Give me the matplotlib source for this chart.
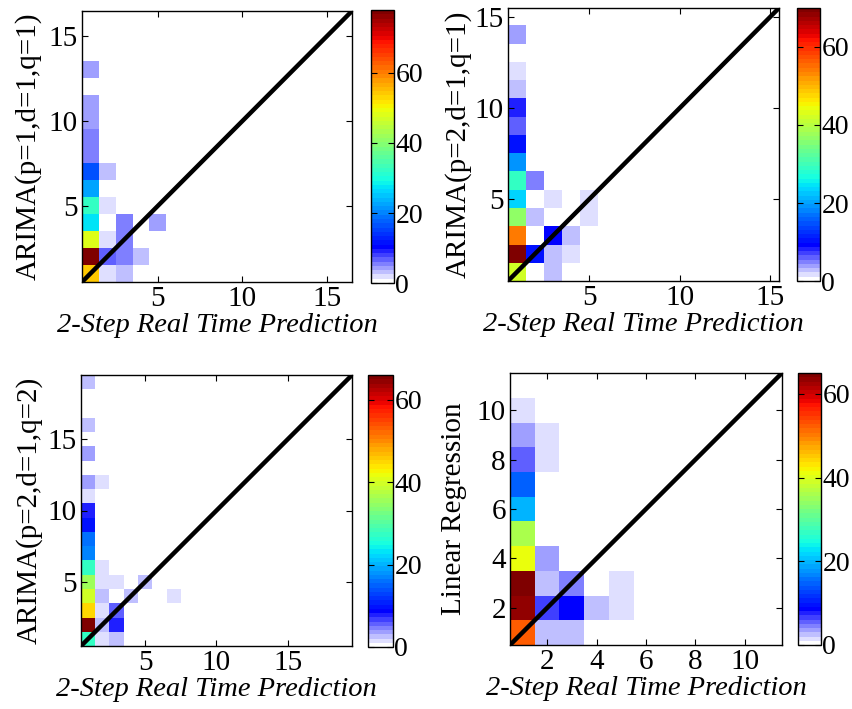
import matplotlib
matplotlib.use("Agg")
import matplotlib.pyplot as plt
import numpy as np
from matplotlib.colors import ListedColormap

plt.rcParams['font.family'] = ['Liberation Serif', 'DejaVu Serif']

# (real-time prediction bin, model prediction bin, count)
p1_cells = [(1, 1, 54), (1, 2, 78), (1, 3, 48), (1, 4, 28), (1, 5, 32), (1, 6, 23),
            (1, 7, 17), (1, 8, 6), (1, 9, 6), (1, 10, 4), (1, 11, 4), (1, 13, 4),
            (2, 1, 2), (2, 2, 7), (2, 3, 2), (2, 5, 2), (2, 7, 3),
            (3, 1, 3), (3, 2, 6), (3, 3, 6), (3, 4, 5), (4, 2, 3), (5, 4, 4)]
p2_cells = [(1, 1, 42), (1, 2, 70), (1, 3, 54), (1, 4, 37), (1, 5, 24), (1, 6, 29),
            (1, 7, 19), (1, 8, 10), (1, 9, 6), (1, 10, 8), (1, 11, 3), (1, 12, 2), (1, 14, 4),
            (2, 2, 10), (2, 4, 3), (2, 6, 5),
            (3, 1, 3), (3, 2, 3), (3, 3, 9), (3, 5, 2),
            (4, 2, 2), (4, 3, 3), (5, 4, 2), (5, 5, 2)]
p3_cells = [(1, 1, 27), (1, 2, 66), (1, 3, 45), (1, 4, 40), (1, 5, 36), (1, 6, 27),
            (1, 7, 17), (1, 8, 16), (1, 9, 10), (1, 10, 8), (1, 11, 2), (1, 12, 4),
            (1, 14, 4), (1, 16, 3), (1, 19, 3),
            (2, 1, 2), (2, 2, 3), (2, 3, 2), (2, 4, 3), (2, 5, 2), (2, 6, 2), (2, 12, 2),
            (3, 1, 3), (3, 2, 8), (3, 3, 6), (3, 5, 2),
            (4, 4, 3), (5, 5, 3), (7, 4, 2)]
p4_cells = [(1, 1, 52), (1, 2, 63), (1, 3, 65), (1, 4, 41), (1, 5, 36), (1, 6, 20),
            (1, 7, 15), (1, 8, 6), (1, 9, 4), (1, 10, 2),
            (2, 1, 3), (2, 2, 7), (2, 3, 3), (2, 4, 4), (2, 8, 2), (2, 9, 2),
            (3, 1, 3), (3, 2, 9), (3, 3, 5), (4, 2, 3), (5, 2, 2), (5, 3, 2)]

nbins = [16, 15, 19, 11]
ticks = [[5, 10, 15], [5, 10, 15], [5, 10, 15], [2, 4, 6, 8, 10]]
ylabels = ["ARIMA(p=1,d=1,q=1)", "ARIMA(p=2,d=1,q=1)", "ARIMA(p=2,d=1,q=2)", "Linear Regression"]
xlabel = "2-Step Real Time Prediction"

# jet with the lowest eighth faded from white to blue
cols = plt.cm.jet(np.linspace(0, 1, 64))
for i in range(8):
    cols[i] = (1 - i / 8, 1 - i / 8, 1, 1)
cmap = ListedColormap(cols)

W, H = 853, 709
fig = plt.figure(figsize=(W / 100, H / 100), dpi=100)

def box(l, r, t, b):
    return [l / W, 1 - b / H, (r - l) / W, (b - t) / H]

ax_boxes = [box(82, 352, 11, 282), box(508, 779, 8, 281),
            box(81, 352, 375, 646), box(510, 782, 373, 645)]
cb_boxes = [box(371, 394, 10, 283), box(797, 820, 8, 281),
            box(368, 393, 375, 647), box(798, 821, 373, 645)]
ylab_x = [-0.148, -0.133, -0.14, -0.158]

for k, cells in enumerate([p1_cells, p2_cells, p3_cells, p4_cells]):
    n = nbins[k]
    grid = np.zeros((n, n))
    for cx, cy, c in cells:
        grid[cy - 1, cx - 1] = c
    ax = fig.add_axes(ax_boxes[k])
    im = ax.imshow(grid, origin='lower', extent=(0.5, n + 0.5, 0.5, n + 0.5),
                   cmap=cmap, vmin=0, vmax=grid.max(), interpolation='nearest', aspect='auto')
    ax.plot([0.5, n + 0.5], [0.5, n + 0.5], color='black', lw=3.2, solid_capstyle='butt')
    ax.set_xlim(0.5, n + 0.5)
    ax.set_ylim(0.5, n + 0.5)
    ax.set_xticks(ticks[k])
    ax.set_yticks(ticks[k])
    ax.tick_params(direction='in', top=True, right=True, length=4, width=0.8,
                   labelsize=21, pad=3)
    for s in ax.spines.values():
        s.set_linewidth(1.0)
    ax.set_xlabel(xlabel, fontsize=20.5, style='italic')
    ax.xaxis.set_label_coords(0.5, -0.115)
    ax.set_ylabel(ylabels[k], fontsize=21)
    ax.yaxis.set_label_coords(ylab_x[k], 0.5)

    cax = fig.add_axes(cb_boxes[k])
    cb = fig.colorbar(im, cax=cax, ticks=[0, 20, 40, 60])
    cb.outline.set_linewidth(1.0)
    cax.tick_params(direction='in', left=True, right=True, length=4, width=0.8,
                    labelsize=20, pad=1)

fig.savefig("out.png", dpi=100)
